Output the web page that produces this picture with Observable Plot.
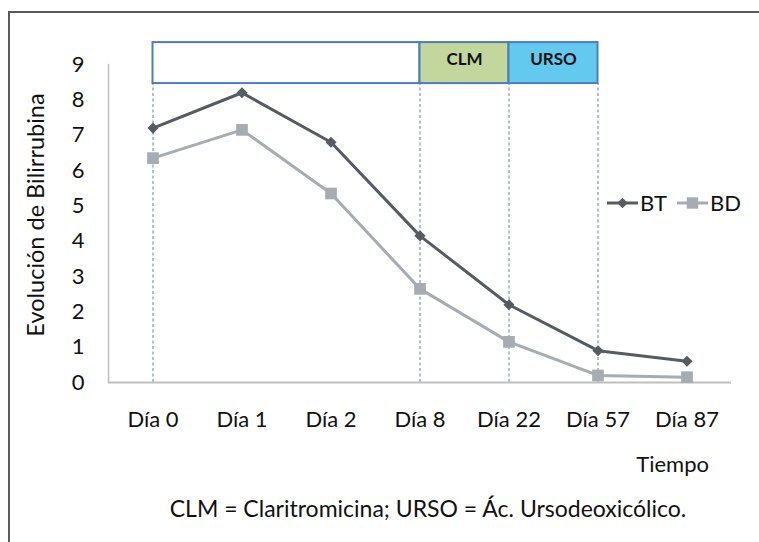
<!DOCTYPE html>
<html>
<head>
<meta charset="utf-8">
<script src="https://cdn.jsdelivr.net/npm/d3@7"></script>
<script src="https://cdn.jsdelivr.net/npm/@observablehq/plot@0.6"></script>
<style>
  body { margin: 0; background: #fff; font-family: Lato, "Open Sans", sans-serif; }
  #wrap { position: relative; width: 759px; height: 542px; overflow: hidden; background: #fff; }
  #border { position: absolute; left: 8px; top: 11px; width: 800px; height: 600px;
            border-left: 2px solid #5a5a5a; border-top: 2px solid #5a5a5a; }
  #chart { position: absolute; left: 0; top: 0; }
  .txt { position: absolute; color: #111; white-space: nowrap; font-family: Lato, sans-serif; }
  #ytitle { left: 35px; top: 215px; font-size: 23.5px; transform: translate(-50%, -50%) rotate(-90deg); }
  #xtitle { right: 50px; top: 450px; font-size: 22px; }
  #caption { left: 428px; top: 494px; font-size: 23px; transform: translateX(-50%); }
  #legend { position: absolute; left: 600px; top: 190px; }
</style>
</head>
<body>
<div id="wrap">
  <div id="border"></div>
  <div id="chart"></div>
  <div class="txt" id="ytitle">Evolución de Bilirrubina</div>
  <div class="txt" id="xtitle">Tiempo</div>
  <div class="txt" id="caption">CLM = Claritromicina; URSO = Ác. Ursodeoxicólico.</div>
  <div id="legend"></div>
</div>
<script>
// ---- data ----
const days = ["Día 0", "Día 1", "Día 2", "Día 8", "Día 22", "Día 57", "Día 87"];
const bt = [7.2, 8.2, 6.8, 4.15, 2.2, 0.9, 0.6];
const bd = [6.35, 7.15, 5.35, 2.65, 1.15, 0.2, 0.15];
const yTicks = [0, 1, 2, 3, 4, 5, 6, 7, 8, 9];
const seriesNames = ["BT", "BD"];
const phaseNames = ["", "CLM", "URSO"];
const phaseStarts = ["Día 0", "Día 8", "Día 22"];
const phaseEnds = ["Día 8", "Día 22", "Día 57"];

// ---- styles ----
const btColor = "#565b62";
const bdColor = "#a7acb2";
const phaseFills = ["#ffffff", "#c3d69b", "#63c9ee"];
const boxStroke = "#4a7ebb";

// ---- derived tables ----
const idx = d => days.indexOf(d);
const btRows = days.map((d, i) => ({i, day: d, v: bt[i]}));
const bdRows = days.map((d, i) => ({i, day: d, v: bd[i]}));
const phases = phaseNames.map((name, k) => ({name, start: idx(phaseStarts[k]), end: idx(phaseEnds[k])}));
const boundaries = Array.from(new Set([...phaseStarts, ...phaseEnds])).map(idx);
const boxBottom = 8.46, boxTop = 9.62;

const chart = Plot.plot({
  width: 759,
  height: 542,
  marginLeft: 108,
  marginRight: 28,
  marginTop: 64,
  marginBottom: 160,
  style: {fontFamily: "Lato, sans-serif", fontSize: "22px", color: "#111", background: "transparent", overflow: "visible"},
  x: {type: "linear", domain: [-0.5, days.length - 0.5]},
  y: {domain: [0, 9]},
  color: {domain: phaseNames, range: phaseFills},
  marks: [
    Plot.ruleX(boundaries, {x: d => d, y1: 0, y2: boxBottom, stroke: "#6f80a0", strokeWidth: 1, strokeDasharray: "3,2.5"}),
    Plot.ruleY([0], {stroke: "#bfbfbf", strokeWidth: 2}),
    Plot.frame({anchor: "left", stroke: "#bfbfbf", strokeWidth: 1.5}),
    Plot.axisX(d3.range(days.length), {tickSize: 0, tickPadding: 29, tickFormat: i => days[i], label: null, fontSize: 22}),
    Plot.axisY(yTicks, {tickSize: 0, tickPadding: 24, label: null, fontSize: 22}),
    Plot.rect(phases, {x1: "start", x2: "end", y1: boxBottom, y2: boxTop, fill: "name", stroke: boxStroke, strokeWidth: 2}),
    Plot.text(phases.filter(p => p.name), {x: p => (p.start + p.end) / 2, y: 9.15, text: "name", fontWeight: "bold", fontSize: 17, fill: "#111"}),
    Plot.line(bdRows, {x: "i", y: "v", stroke: bdColor, strokeWidth: 3}),
    Plot.dot(bdRows, {x: "i", y: "v", symbol: "square", r: 6.6, fill: bdColor, stroke: "none"}),
    Plot.line(btRows, {x: "i", y: "v", stroke: btColor, strokeWidth: 3}),
    Plot.dot(btRows, {x: "i", y: "v", symbol: "diamond2", r: 5, fill: btColor, stroke: "none"})
  ]
});
document.getElementById("chart").appendChild(chart);

// ---- legend ----
const leg = d3.select("#legend").append("svg").attr("width", 159).attr("height", 28)
  .style("font-family", "Lato, sans-serif").style("overflow", "visible");
const legItems = [
  {name: seriesNames[0], color: btColor, x: 7, symbol: d3.symbolDiamond2, size: 70},
  {name: seriesNames[1], color: bdColor, x: 77, symbol: d3.symbolSquare, size: 130}
];
legItems.forEach(it => {
  leg.append("line").attr("x1", it.x).attr("x2", it.x + 31).attr("y1", 13).attr("y2", 13)
    .attr("stroke", it.color).attr("stroke-width", 3);
  leg.append("path").attr("d", d3.symbol(it.symbol, it.size)()).attr("transform", `translate(${it.x + 15.5},13)`)
    .attr("fill", it.color);
  leg.append("text").attr("x", it.x + 33).attr("y", 13).attr("dy", "0.36em").attr("font-size", 22)
    .attr("fill", "#111").text(it.name);
});
</script>
</body>
</html>
